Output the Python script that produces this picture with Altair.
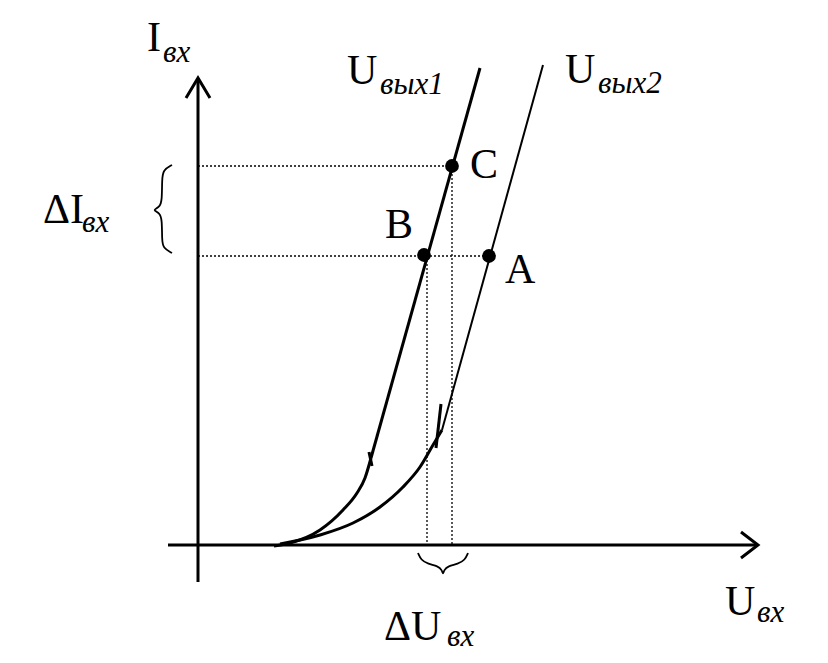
import altair as alt
import pandas as pd

# ---- diagram coordinates (pixel-like units of the 828x663 picture) ----
axis_lines = {
    "x_axis": ([168, 758], [545, 545]),
    "y_axis": ([198, 198], [582, 78]),
    "x_arrow": ([741, 758, 741], [532, 545, 558]),
    "y_arrow": ([186, 198, 210], [98, 78, 98]),
    "line1": ([371, 480], [458, 68]),
    "tick1": ([369, 372], [452, 466]),
    "tick2": ([441, 436], [404, 448]),
}
# curved lower parts of the two characteristics
curve1_x = [274, 290, 320, 343, 357, 365, 371]
curve1_y = [546, 543, 530, 510, 493, 478, 458]
curve2_x = [280, 320, 353, 380, 403, 420, 433, 442]
curve2_y = [544, 535, 523, 507, 487, 467, 445, 430]
# thin straight part of second characteristic
line2_x = [442, 543]
line2_y = [430, 65]
# braces
brace_v_x = [172, 163, 162, 162, 160, 152, 160, 162, 162, 163, 172]
brace_v_y = [165, 170, 180, 200, 207, 210, 213, 220, 240, 248, 253]
brace_h_x = [418, 421, 428, 438, 442, 443, 444, 448, 458, 465, 468]
brace_h_y = [553, 560, 564, 566, 570, 575, 570, 566, 564, 560, 553]
# dotted guides
dotted = {
    "hC": ([198, 452], [166, 166]),
    "hA": ([198, 489], [256, 256]),
    "vB": ([427, 427], [256, 545]),
    "vC": ([452, 452], [166, 545]),
}
# points A, B, C
pt_x = [489, 424, 452]
pt_y = [256, 255, 166]

# labels: main text (upright) and subscripts (italic)
main_text = ["I", "U", "U", "C", "B", "A", "ΔI", "ΔU", "U"]
main_x = [147, 347, 565, 470, 385, 505, 43, 384, 725]
main_y = [51, 84, 83, 178, 238, 283, 223, 640, 615]
sub_text = ["вх", "вых1", "вых2", "вх", "вх", "вх"]
sub_x = [163, 380, 598, 82, 447, 757]
sub_y = [62, 94, 93, 232, 646, 622]

FONT = "Times New Roman, Liberation Serif, serif"


def segs_df(d):
    rows = []
    for name, (xs, ys) in d.items():
        for i, (x, y) in enumerate(zip(xs, ys)):
            rows.append({"seg": name, "ord": i, "x": x, "y": y})
    return pd.DataFrame(rows)


xs = alt.Scale(domain=[8, 820], nice=False, zero=False)
ys = alt.Scale(domain=[8, 655], nice=False, zero=False, reverse=True)
X = alt.X("x:Q", scale=xs, axis=None)
Y = alt.Y("y:Q", scale=ys, axis=None)

thick = alt.Chart(segs_df(axis_lines)).mark_line(
    color="black", strokeWidth=3, strokeCap="butt", clip=False
).encode(x=X, y=Y, detail="seg:N", order="ord:Q")

curves = alt.Chart(segs_df({
    "c1": (curve1_x, curve1_y),
    "c2": (curve2_x, curve2_y),
})).mark_line(color="black", strokeWidth=3, interpolate="monotone").encode(
    x=X, y=Y, detail="seg:N", order="ord:Q")

thin = alt.Chart(segs_df({"l2": (line2_x, line2_y)})).mark_line(
    color="black", strokeWidth=2).encode(x=X, y=Y, detail="seg:N", order="ord:Q")

braces = alt.Chart(segs_df({
    "bv": (brace_v_x, brace_v_y),
    "bh": (brace_h_x, brace_h_y),
})).mark_line(color="black", strokeWidth=1.8, interpolate="basis").encode(
    x=X, y=Y, detail="seg:N", order="ord:Q")

dots = alt.Chart(segs_df(dotted)).mark_line(
    color="black", strokeWidth=1.3, strokeDash=[2, 2]).encode(
    x=X, y=Y, detail="seg:N", order="ord:Q")

points = alt.Chart(pd.DataFrame({"x": pt_x, "y": pt_y})).mark_point(
    shape="circle", filled=True, color="black", size=190, opacity=1).encode(x=X, y=Y)

labels = alt.Chart(pd.DataFrame({"x": main_x, "y": main_y, "t": main_text})).mark_text(
    font=FONT, fontSize=42, align="left", baseline="alphabetic",
    color="black").encode(x=X, y=Y, text="t:N")

subs = alt.Chart(pd.DataFrame({"x": sub_x, "y": sub_y, "t": sub_text})).mark_text(
    font=FONT, fontSize=31, fontStyle="italic", align="left",
    baseline="alphabetic", color="black").encode(x=X, y=Y, text="t:N")

chart = alt.layer(dots, braces, thin, curves, thick, points, labels, subs).properties(
    width=812, height=647, padding=0, autosize=alt.AutoSizeParams(type="none"),
    background="white",
).configure_view(stroke=None)

chart.save("out.html", embed_options={"renderer": "svg", "actions": False})
